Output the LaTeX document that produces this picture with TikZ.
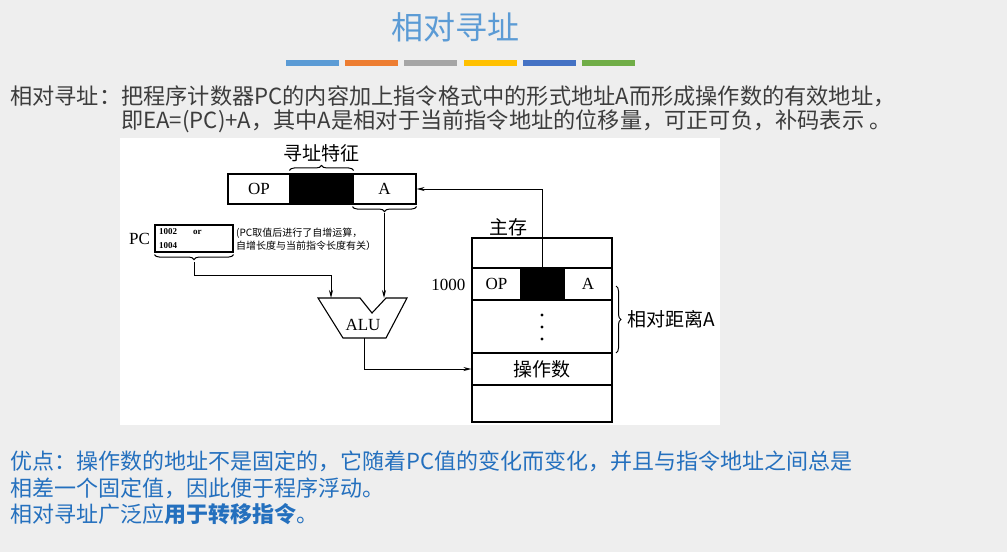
\documentclass[tikz,border=0pt]{standalone}
\usepackage{fontspec}
\setmainfont{Liberation Serif}
\newfontfamily\cjk{Noto Sans CJK SC}
\usepackage{xcolor}
\usetikzlibrary{arrows.meta, positioning, calc, decorations.pathreplacing}

\definecolor{titleblue}{RGB}{91,155,213}
\definecolor{barorange}{RGB}{237,125,49}
\definecolor{bargray}{RGB}{165,165,165}
\definecolor{baryellow}{RGB}{255,192,0}
\definecolor{bardblue}{RGB}{68,114,196}
\definecolor{bargreen}{RGB}{112,173,71}
\definecolor{textgray}{RGB}{60,60,60}
\definecolor{noteblue}{RGB}{36,112,190}
\definecolor{pagebg}{RGB}{238,238,238}

\tikzset{
    cell/.style={draw, line width=1.1pt, minimum height=30pt, inner sep=0pt, font=\fontsize{17}{19}\selectfont},
    blk/.style={cell, fill=black},
    brc/.style={decorate, decoration={brace, amplitude=5pt}, line width=1pt},
    flow/.style={line width=1pt, -{Stealth[length=8pt, width=4pt]}},
    lbl/.style={font=\cjk\fontsize{19}{21}\selectfont},
}

\begin{document}
\begin{tikzpicture}[x=1pt, y=-1pt]
    \useasboundingbox (0,0) rectangle (1007,552);
    \fill[pagebg] (0,0) rectangle (1007,552);

    % Title and colour bars
    \node[titleblue, font=\cjk\fontsize{32}{36}\selectfont] (title) at (455,27) {相对寻址};
    \foreach \c [count=\i from 0] in {titleblue, barorange, bargray, baryellow, bardblue, bargreen}
        \fill[\c] ({286+\i*59.2},60) rectangle ({339+\i*59.2},66);

    % Definition text
    \node[anchor=west, inner sep=0pt, textgray, font=\cjk\fontsize{22.2}{25}\selectfont] (def1) at (10,96)
        {相对寻址：把程序计数器PC的内容加上指令格式中的形式地址A而形成操作数的有效地址，};
    \node[anchor=west, inner sep=0pt, textgray, font=\cjk\fontsize{22.2}{25}\selectfont] (def2) at (121,121)
        {即EA=(PC)+A，其中A是相对于当前指令地址的位移量，可正可负，补码表示 。};

    % Figure background
    \fill[white] (120,138) rectangle (720,425);

    % Instruction
    \node[cell, minimum width=62pt] (iop) at (259,189) {OP};
    \node[blk, minimum width=63pt] (ibk) at (321.5,189) {};
    \node[cell, minimum width=63pt] (ia) at (384.5,189) {A};
    \draw[brc] (ibk.north west) ++(0,-3) -- ($(ibk.north east)+(0,-3)$);
    \node[lbl] (feat) at (321.5,153) {寻址特征};
    \draw[brc] ($(ia.south east)+(0,2)$) -- ($(ia.south west)+(0,2)$);
    \coordinate (atip) at (384,213);

    % PC
    \node[draw, line width=1.1pt, minimum width=78pt, minimum height=27pt, inner sep=0pt] (pc) at (194,238.5) {};
    \node[font=\fontsize{17}{19}\selectfont, left=1pt of pc] (pclbl) {PC};
    \node[anchor=west, inner sep=0pt, font=\bfseries\fontsize{9}{10}\selectfont] (pc1) at (159,232) {1002};
    \node[anchor=west, inner sep=0pt, font=\bfseries\fontsize{9}{10}\selectfont] (pc2) at (193,232) {or};
    \node[anchor=west, inner sep=0pt, font=\bfseries\fontsize{9}{10}\selectfont] (pc3) at (159,246) {1004};
    \node[anchor=west, inner sep=0pt, align=left, font=\cjk\fontsize{10}{13}\selectfont] (pcnote) at (236,239)
        {(PC取值后进行了自增运算，\\自增长度与当前指令长度有关）};
    \draw[brc] ($(pc.south east)+(0,2)$) -- ($(pc.south west)+(0,2)$);
    \coordinate (pctip) at (194,262);

    % ALU
    \draw[line width=1.1pt] (318,298) -- (360,298) -- (372,313) -- (386,298) -- (407,298)
        -- (386,338) -- (343,338) -- cycle;
    \node[font=\fontsize{17}{19}\selectfont] (alu) at (363,325) {ALU};
    \coordinate (alul) at (331,298);
    \coordinate (alur) at (384,298);
    \coordinate (alub) at (364,338);

    % Main memory
    \node[cell, minimum width=140pt, minimum height=30pt] (m0) at (542,253) {};
    \node[cell, minimum width=49pt, minimum height=32pt] (mop) at (496.5,284) {OP};
    \node[blk, minimum width=43pt, minimum height=32pt] (mbk) at (542.5,284) {};
    \node[cell, minimum width=48pt, minimum height=32pt] (ma) at (588,284) {A};
    \node[cell, minimum width=140pt, minimum height=53pt] (m2) at (542,326.5) {};
    \node[cell, minimum width=140pt, minimum height=32pt, font=\cjk\fontsize{19}{21}\selectfont] (m3) at (542,369) {操作数};
    \node[cell, minimum width=140pt, minimum height=37pt] (m4) at (542,403.5) {};
    \foreach \yy in {315,327,339}
        \fill (542,\yy) circle (1.6pt);
    \node[lbl] (mem) at (508,227) {主存};
    \node[anchor=east, font=\fontsize{17}{19}\selectfont] (addr) at (469,285) {1000};
    \draw[brc] (616,286) -- (616,353);
    \node[lbl, anchor=west] (dist) at (624,319.5) {相对距离A};

    % Connectors
    \draw[flow] (atip) -- (alur);
    \draw[flow] (pctip) -- (194,275) -| (alul);
    \draw[flow] (alub) |- (m3.west);
    \draw[flow] (mbk.north) |- (ia.east);

    % Advantages
    \node[anchor=west, inner sep=0pt, noteblue, font=\cjk\fontsize{22}{25}\selectfont] (adv1) at (10,461)
        {优点：操作数的地址不是固定的，它随着PC值的变化而变化，并且与指令地址之间总是};
    \node[anchor=west, inner sep=0pt, noteblue, font=\cjk\fontsize{22}{25}\selectfont] (adv2) at (10,488)
        {相差一个固定值，因此便于程序浮动。};
    \node[anchor=west, inner sep=0pt, noteblue, font=\cjk\fontsize{22}{25}\selectfont] (adv3) at (10,514)
        {相对寻址广泛应{\bfseries 用于转移指令}。};
\end{tikzpicture}
\end{document}
